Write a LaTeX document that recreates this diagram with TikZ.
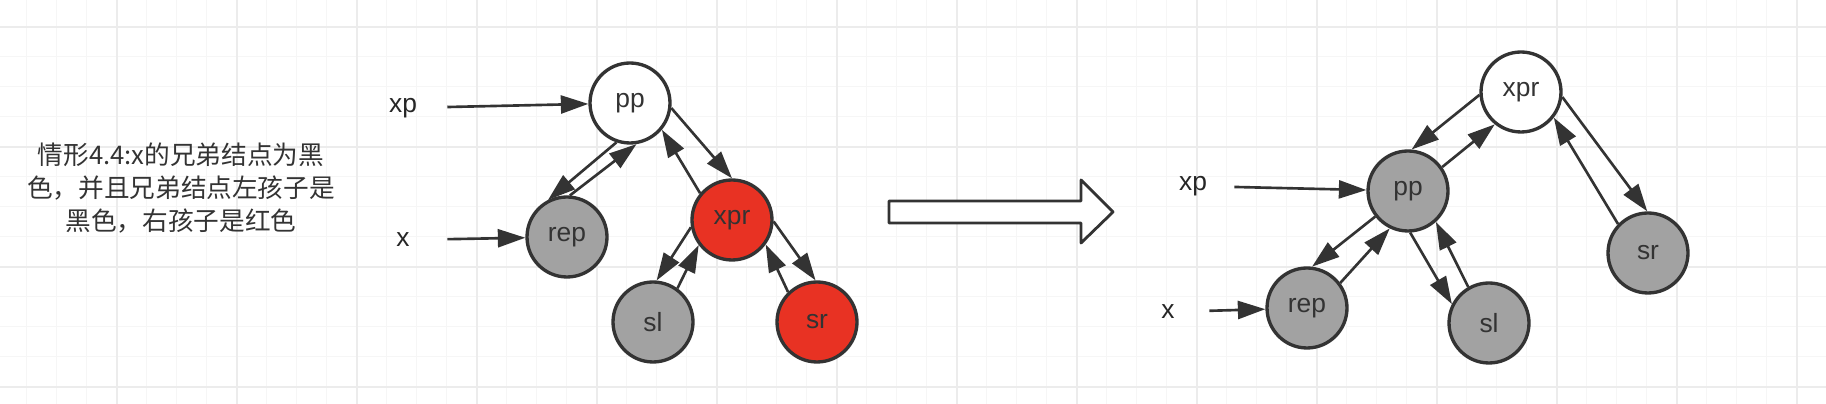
\documentclass[tikz,border=0pt]{standalone}
\usepackage{fontspec}
\setmainfont{Liberation Sans}
\newfontfamily\cjk{Noto Sans CJK SC}
\usetikzlibrary{arrows.meta}
\definecolor{rbred}{RGB}{232,50,35}
\definecolor{rbgray}{RGB}{162,162,162}
\definecolor{rbline}{RGB}{51,51,51}
\definecolor{gridlight}{RGB}{246,246,246}
\definecolor{griddark}{RGB}{236,236,236}
\begin{document}
\begin{tikzpicture}[x=0.02cm,y=-0.02cm,
rb/.style={circle,draw=rbline,line width=1.9pt,minimum size=1.6cm,inner sep=0pt,text=rbline,font=\fontsize{15}{18}\selectfont},
topnode/.style={rb,fill=white},
blknode/.style={rb,fill=rbgray},
rednode/.style={rb,fill=rbred},
ptr/.style={font=\fontsize{15}{18}\selectfont,text=black!85,inner sep=2pt},
arr/.style={-{Triangle[length=5.5mm,width=3.6mm]},line width=1.5pt,color=rbline},
bigarrow/.style={draw=rbline,line width=1.6pt,line join=round,fill=white}]
\useasboundingbox (0,0) rectangle (1826,404);
\fill[white] (0,0) rectangle (1826,404);
\foreach \i in {0,...,59} \draw[gridlight,line width=0.9pt] ({26.67+30*\i},0) -- ++(0,404);
\foreach \j in {0,...,12} \draw[gridlight,line width=0.9pt] (0,{26.67+30*\j}) -- ++(1826,0);
\foreach \i in {0,...,14} \draw[griddark,line width=1pt] ({116.67+120*\i},0) -- ++(0,404);
\foreach \j in {0,...,3} \draw[griddark,line width=1pt] (0,{26.67+120*\j}) -- ++(1826,0);
\node[font=\cjk\fontsize{14.6}{18.8}\selectfont,align=center,text=black!80] (caption) at (181,188) {情形4.4:x的兄弟结点为黑\\色，并且兄弟结点左孩子是\\黑色，右孩子是红色};
\node[topnode] (ppL) at (630,103) {pp};
\node[blknode] (repL) at (567,237) {rep};
\node[rednode] (xprL) at (732,220) {xpr};
\node[blknode] (slL) at (653,322) {sl};
\node[rednode] (srL) at (817,322) {sr};
\node[ptr] (xpL) at (403,108) {xp};
\node[ptr] (xL) at (403,240) {x};
\draw[arr,shorten <=0.53cm] (xpL) -- (ppL);
\draw[arr,shorten <=0.68cm] (xL) -- (repL);
\draw[arr] (ppL.-109) -- (repL.117);
\draw[arr] (repL.86) -- (ppL.-81);
\draw[arr] (ppL.-7) -- (xprL.90);
\draw[arr] (xprL.140) -- (ppL.-40);
\draw[arr] (xprL.-170) -- (slL.85);
\draw[arr] (slL.54) -- (xprL.-143);
\draw[arr] (xprL.-2) -- (srL.92);
\draw[arr] (srL.134) -- (xprL.-36);
\draw[bigarrow] (889,201) -- (1081,201) -- (1081,180) -- (1113,212) -- (1081,243) -- (1081,223) -- (889,223) -- cycle;
\node[topnode] (xprR) at (1521,92) {xpr};
\node[blknode] (ppR) at (1408,191) {pp};
\node[blknode] (repR) at (1307,308) {rep};
\node[blknode] (slR) at (1489,323) {sl};
\node[blknode] (srR) at (1648,253) {sr};
\node[ptr] (xpR) at (1193,186) {xp};
\node[ptr] (xR) at (1168,312) {x};
\draw[arr,shorten <=0.47cm] (xpR) -- (ppR);
\draw[arr,shorten <=0.62cm] (xR) -- (repR);
\draw[arr] (xprR.-176) -- (ppR.85);
\draw[arr] (ppR.35) -- (xprR.-129);
\draw[arr] (xprR.-7) -- (srR.91);
\draw[arr] (srR.136) -- (xprR.-38);
\draw[arr] (ppR.-142) -- (repR.83);
\draw[arr] (repR.37) -- (ppR.-116);
\draw[arr] (ppR.-87) -- (slR.153);
\draw[arr] (slR.120) -- (ppR.-48);
\end{tikzpicture}
\end{document}
